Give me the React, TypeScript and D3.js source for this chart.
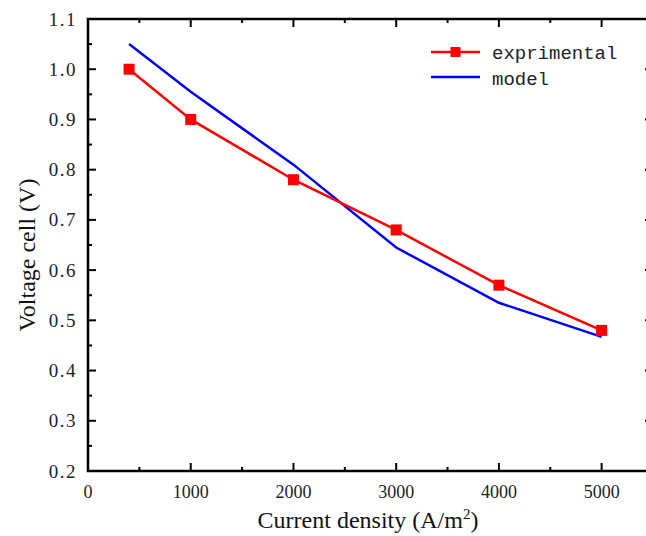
import React from "react";
import * as d3 from "d3";

const expX = [400, 1000, 2000, 3000, 4000, 5000];
const expY = [1.0, 0.9, 0.78, 0.68, 0.57, 0.48];
const modelX = [400, 1000, 2000, 3000, 4000, 5000];
const modelY = [1.05, 0.955, 0.81, 0.645, 0.535, 0.467];
const xTicks = [0, 1000, 2000, 3000, 4000, 5000];
const xMinor = [500, 1500, 2500, 3500, 4500];
const yTicks = [0.2, 0.3, 0.4, 0.5, 0.6, 0.7, 0.8, 0.9, 1.0, 1.1];
const yMinor = [0.25, 0.35, 0.45, 0.55, 0.65, 0.75, 0.85, 0.95, 1.05];

export default function App() {
  const W = 646, H = 536;
  const left = 88, right = 653, top = 19, bottom = 471;
  const x = d3.scaleLinear().domain([0, 5500]).range([left, right]);
  const y = d3.scaleLinear().domain([0.2, 1.1]).range([bottom, top]);
  const line = d3.line<[number, number]>().x(d => x(d[0])).y(d => y(d[1]));
  const expPts: [number, number][] = expX.map((v, i) => [v, expY[i]]);
  const modPts: [number, number][] = modelX.map((v, i) => [v, modelY[i]]);
  const serif = "'Liberation Serif', 'DejaVu Serif', serif";
  const mono = "'Liberation Mono', 'DejaVu Sans Mono', monospace";
  const major = 8, minor = 4;
  return (
    <svg width={W} height={H} style={{ position: "absolute", left: 0, top: 0, background: "#fff" }}>
      <rect x={0} y={0} width={W} height={H} fill="#fff" />
      {/* data */}
      <path d={line(modPts) || ""} fill="none" stroke="#0000ff" strokeWidth={2.5} />
      <path d={line(expPts) || ""} fill="none" stroke="#ff0000" strokeWidth={2.5} />
      {expPts.map((p, i) => (
        <rect key={i} x={x(p[0]) - 5.5} y={y(p[1]) - 5.5} width={11} height={11} fill="#ff0000" />
      ))}
      {/* frame */}
      <rect x={left} y={top} width={right - left} height={bottom - top} fill="none" stroke="#000" strokeWidth={2.5} />
      {/* x ticks */}
      {xTicks.map(t => (
        <g key={"xt" + t}>
          <line x1={x(t)} x2={x(t)} y1={bottom} y2={bottom - major} stroke="#000" strokeWidth={2} />
          <line x1={x(t)} x2={x(t)} y1={top} y2={top + major} stroke="#000" strokeWidth={2} />
          <text x={x(t)} y={498} textAnchor="middle" fontFamily={serif} fontSize={18} fill="#222">{t}</text>
        </g>
      ))}
      {xMinor.map(t => (
        <g key={"xm" + t}>
          <line x1={x(t)} x2={x(t)} y1={bottom} y2={bottom - minor} stroke="#000" strokeWidth={2} />
          <line x1={x(t)} x2={x(t)} y1={top} y2={top + minor} stroke="#000" strokeWidth={2} />
        </g>
      ))}
      {/* y ticks */}
      {yTicks.map(t => (
        <g key={"yt" + t}>
          <line x1={left} x2={left + major} y1={y(t)} y2={y(t)} stroke="#000" strokeWidth={2} />
          <line x1={right} x2={right - major} y1={y(t)} y2={y(t)} stroke="#000" strokeWidth={2} />
          <text x={77} y={y(t) + 6.5} textAnchor="end" fontFamily={serif} fontSize={19} letterSpacing={1.5} fill="#222">{d3.format(".1f")(t)}</text>
        </g>
      ))}
      {yMinor.map(t => (
        <g key={"ym" + t}>
          <line x1={left} x2={left + minor} y1={y(t)} y2={y(t)} stroke="#000" strokeWidth={2} />
          <line x1={right} x2={right - minor} y1={y(t)} y2={y(t)} stroke="#000" strokeWidth={2} />
        </g>
      ))}
      {/* axis titles */}
      <text x={368} y={528} textAnchor="middle" fontFamily={serif} fontSize={24} fill="#111">
        Current density (A/m<tspan dy={-9} fontSize={15}>2</tspan><tspan dy={9}>)</tspan>
      </text>
      <text transform="translate(35,255) rotate(-90)" textAnchor="middle" fontFamily={serif} fontSize={24} fill="#111">
        Voltage cell (V)
      </text>
      {/* legend */}
      <line x1={431} x2={480} y1={52} y2={52} stroke="#ff0000" strokeWidth={2.5} />
      <rect x={450.5} y={47} width={10} height={10} fill="#ff0000" />
      <text x={492} y={59} fontFamily={mono} fontSize={19} fill="#222">exprimental</text>
      <line x1={431} x2={480} y1={77} y2={77} stroke="#0000ff" strokeWidth={2.5} />
      <text x={492} y={85} fontFamily={mono} fontSize={19} fill="#222">model</text>
    </svg>
  );
}
